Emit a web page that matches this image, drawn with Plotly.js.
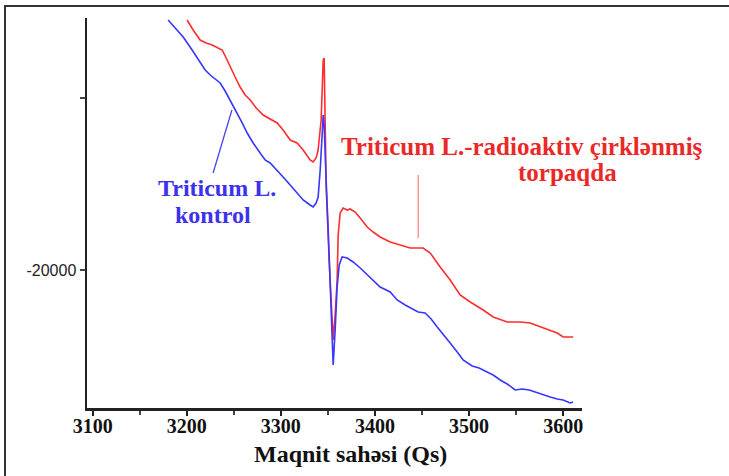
<!DOCTYPE html>
<html>
<head>
<meta charset="utf-8">
<script src="https://cdn.plot.ly/plotly-3.0.1.min.js"></script>
<style>
  html, body { margin: 0; padding: 0; background: #fff; }
  #wrap { position: relative; width: 729px; height: 476px; overflow: hidden; }
  #chart { width: 729px; height: 476px; }
  #frame { position: absolute; left: 4px; top: 5px; width: 730px; height: 480px;
           border-top: 2px solid #333; border-left: 2px solid #333; pointer-events: none; }
</style>
</head>
<body>
<div id="wrap"><div id="chart"></div><div id="frame"></div></div>
<script>
// Magnetic field (Qs) and signal values
const redField = [3200.4, 3206.8, 3214.2, 3220.6, 3227.0, 3233.4, 3237.6, 3241.9, 3246.1, 3251.4, 3256.7, 3262.1, 3267.4, 3273.8, 3281.2, 3288.6, 3296.1, 3302.4, 3309.9, 3317.3, 3323.7, 3331.1, 3334.3, 3337.5, 3339.6, 3342.8, 3343.9, 3345.0, 3346.0, 3347.1, 3348.1, 3351.3, 3353.5, 3355.6, 3357.7, 3359.8, 3360.9, 3363.0, 3366.2, 3370.5, 3373.6, 3379.0, 3384.3, 3391.7, 3398.1, 3405.5, 3416.2, 3426.8, 3437.4, 3451.2, 3458.7, 3469.3, 3479.9, 3490.5, 3501.2, 3515.0, 3525.6, 3540.5, 3554.3, 3564.9, 3578.7, 3593.6, 3600.0, 3610.6];
const redSignal = [-5465, -6046, -6628, -6802, -6918, -7093, -7209, -7674, -8198, -8779, -9360, -9825, -10116, -10581, -10988, -11221, -11453, -11860, -12442, -12616, -13023, -13605, -13721, -13488, -13023, -11279, -9535, -7791, -7674, -11279, -15058, -19419, -21744, -24070, -22616, -20581, -17965, -16686, -16395, -16512, -16453, -16628, -16977, -17500, -17791, -18081, -18372, -18546, -18721, -18721, -19012, -19826, -20581, -21454, -21860, -22326, -22733, -23023, -23023, -23081, -23372, -23663, -23895, -23895];

const blueField = [3180.2, 3187.7, 3196.2, 3205.7, 3214.2, 3219.6, 3224.9, 3230.2, 3235.5, 3240.8, 3246.1, 3253.6, 3258.9, 3264.2, 3270.6, 3278.0, 3283.3, 3288.6, 3295.0, 3302.4, 3309.9, 3317.3, 3323.7, 3331.1, 3334.3, 3337.5, 3339.6, 3341.8, 3343.9, 3345.0, 3346.0, 3347.1, 3348.1, 3350.3, 3352.4, 3354.5, 3355.6, 3357.7, 3359.8, 3362.0, 3365.1, 3370.5, 3376.8, 3384.3, 3394.9, 3405.5, 3416.2, 3423.6, 3432.1, 3437.4, 3445.9, 3453.3, 3459.7, 3466.1, 3473.5, 3479.9, 3487.4, 3493.7, 3503.3, 3510.7, 3519.2, 3525.6, 3533.1, 3540.5, 3549.0, 3556.4, 3563.9, 3570.2, 3577.7, 3586.2, 3593.6, 3600.0, 3607.4, 3610.6];
const blueSignal = [-5465, -5930, -6453, -7209, -7965, -8372, -8663, -8895, -9128, -9593, -10116, -10872, -11453, -12035, -12616, -13198, -13605, -13779, -14186, -14593, -15058, -15523, -15930, -16221, -16337, -16105, -15756, -14186, -12035, -10988, -11570, -13605, -14767, -17674, -21163, -24070, -25523, -23488, -20988, -19709, -19244, -19302, -19535, -19884, -20465, -20988, -21279, -21744, -22035, -22209, -22442, -22500, -22849, -23314, -23779, -24244, -24767, -25233, -25581, -25698, -25930, -26105, -26395, -26628, -26977, -26919, -26977, -27093, -27268, -27384, -27500, -27558, -27733, -27674];

const xTickVals = [3100, 3200, 3300, 3400, 3500, 3600];
const xTickText = ['3100', '3200', '3300', '3400', '3500', '3600'];
const yTickVals = [-20000, -10000];
const yTickText = ['-20000', ''];

const redLabel1 = 'Triticum L.-radioaktiv çirklənmiş';
const redLabel2 = 'torpaqda';
const blueLabel1 = 'Triticum L.';
const blueLabel2 = 'kontrol';
const xTitle = 'Maqnit sahəsi (Qs)';

const serif = 'Liberation Serif, Times New Roman, serif';
const redText = 'rgb(235,40,40)';
const blueText = 'rgb(60,50,235)';

const traces = [
  { x: redField, y: redSignal, type: 'scatter', mode: 'lines',
    line: { color: 'rgb(255,45,45)', width: 1.6 }, hoverinfo: 'skip' },
  { x: blueField, y: blueSignal, type: 'scatter', mode: 'lines',
    line: { color: 'rgb(55,55,255)', width: 1.6 }, hoverinfo: 'skip' }
];

const layout = {
  width: 729, height: 476,
  margin: { l: 87, r: 147, t: 18, b: 68 },
  paper_bgcolor: '#fff', plot_bgcolor: '#fff',
  showlegend: false,
  xaxis: {
    range: [3094, 3620],
    showgrid: false, zeroline: false,
    showline: true, linecolor: '#222', linewidth: 2.5,
    tickmode: 'array', tickvals: xTickVals, ticktext: xTickText,
    ticks: 'outside', ticklen: 5, tickwidth: 2, tickcolor: '#222',
    ticklabelstandoff: -7,
    minor: { dtick: 50, tick0: 3100, ticks: 'outside', ticklen: 4, tickwidth: 2, tickcolor: '#444' },
    tickfont: { family: serif, size: 20, color: '#111', weight: 'bold' }
  },
  yaxis: {
    range: [-28023, -5349],
    showgrid: false, zeroline: false,
    showline: true, linecolor: '#222', linewidth: 2.5,
    tickmode: 'array', tickvals: yTickVals, ticktext: yTickText,
    ticks: 'outside', ticklen: 5, tickwidth: 2, tickcolor: '#444',
    tickfont: { family: 'Liberation Sans, Arial, sans-serif', size: 16, color: '#222' }
  },
  shapes: [
    { type: 'line', xref: 'x', yref: 'y', x0: 3228, y0: -14360, x1: 3248, y1: -10698,
      line: { color: 'rgb(70,70,240)', width: 1.3 } },
    { type: 'line', xref: 'x', yref: 'y', x0: 3446, y0: -14477, x1: 3446, y1: -18140,
      line: { color: 'rgb(255,150,150)', width: 1.5 } }
  ],
  annotations: [
    { xref: 'x', yref: 'y', x: 3232, y: -15233, text: '<b>' + blueLabel1 + '</b>', showarrow: false,
      font: { family: serif, size: 24, color: blueText } },
    { xref: 'x', yref: 'y', x: 3228, y: -16802, text: '<b>' + blueLabel2 + '</b>', showarrow: false,
      font: { family: serif, size: 24, color: blueText } },
    { xref: 'x', yref: 'y', x: 3556, y: -12840, text: '<b>' + redLabel1 + '</b>', showarrow: false,
      font: { family: serif, size: 25, color: redText }, xanchor: 'center' },
    { xref: 'x', yref: 'y', x: 3605, y: -14310, text: '<b>' + redLabel2 + '</b>', showarrow: false,
      font: { family: serif, size: 25, color: redText }, xanchor: 'center' },
    { xref: 'paper', yref: 'paper', x: 0.533, y: -0.118, yanchor: 'middle', xanchor: 'center',
      text: '<b>' + xTitle + '</b>', showarrow: false,
      font: { family: serif, size: 24, color: '#111' } }
  ]
};

Plotly.newPlot('chart', traces, layout, { displayModeBar: false, staticPlot: true });
</script>
</body>
</html>
